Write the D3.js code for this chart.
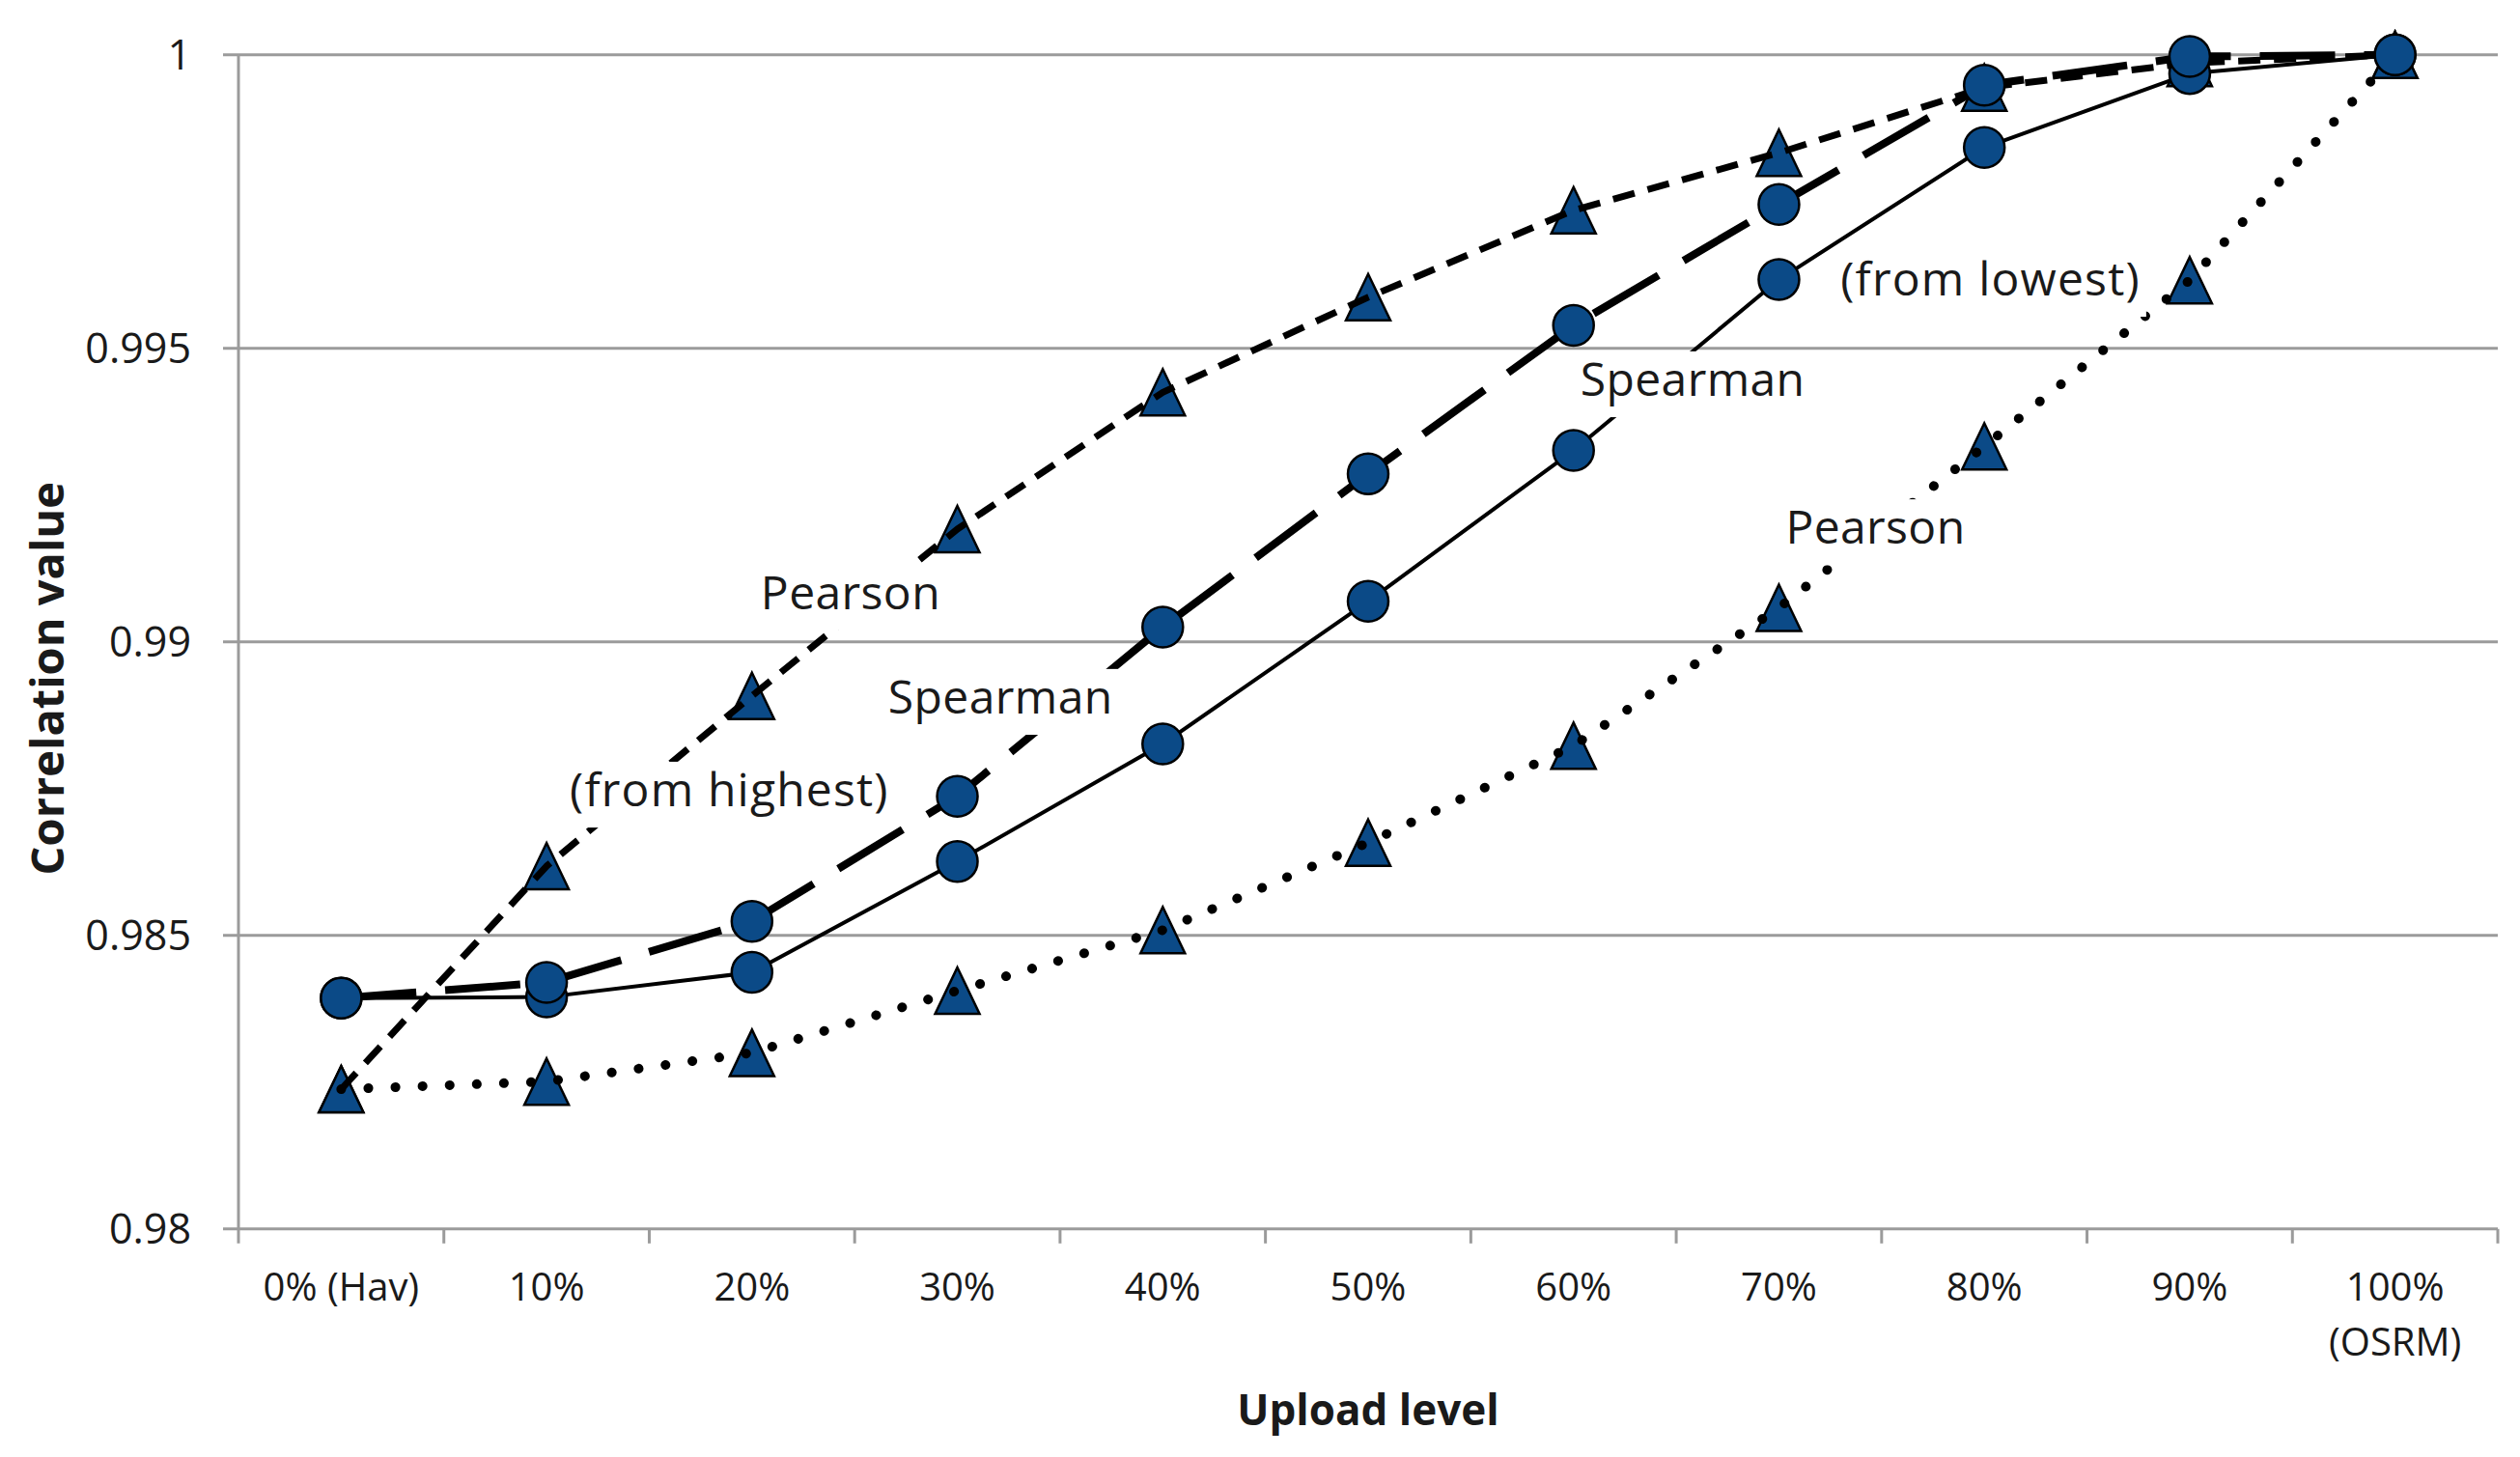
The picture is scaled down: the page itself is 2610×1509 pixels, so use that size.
<!DOCTYPE html>
<html>
<head>
<meta charset="utf-8">
<script src="https://cdn.jsdelivr.net/npm/d3@7/dist/d3.min.js"></script>
<style>
  html, body { margin: 0; padding: 0; background: #fff; }
  svg { display: block; }
</style>
</head>
<body>
<svg id="chart" width="2610" height="1509"></svg>
<script>
// ---- data ----
const categories = ["0% (Hav)", "10%", "20%", "30%", "40%", "50%", "60%", "70%", "80%", "90%", "100%|(OSRM)"];
const pearsonHighest  = [0.98238, 0.98618, 0.98908, 0.99192, 0.99425, 0.99587, 0.99735, 0.99833, 0.99944, 0.99986, 1.0];
const spearmanHighest = [0.98393, 0.98420, 0.98524, 0.98737, 0.99025, 0.99286, 0.99539, 0.99745, 0.99948, 0.99997, 1.0];
const spearmanLowest  = [0.98393, 0.98395, 0.98437, 0.98626, 0.98826, 0.99069, 0.99326, 0.99617, 0.99842, 0.99968, 1.0];
const pearsonLowest   = [0.98238, 0.98251, 0.98300, 0.98406, 0.98509, 0.98658, 0.98823, 0.99058, 0.99333, 0.99616, 1.0];
const yTicks = [0.98, 0.985, 0.99, 0.995, 1];
const yTickLabels = ["0.98", "0.985", "0.99", "0.995", "1"];
const xTitle = "Upload level";
const yTitle = "Correlation value";
// annotations: text, anchored at fractional category index and value (baseline)
const annotations = [
  { text: "Pearson",        cat: 2.48, val: 0.99056 },
  { text: "Spearman",       cat: 3.21, val: 0.98878 },
  { text: "(from highest)", cat: 1.89, val: 0.98720 },
  { text: "(from lowest)",  cat: 8.03, val: 0.99590 },
  { text: "Spearman",       cat: 6.58, val: 0.99419 },
  { text: "Pearson",        cat: 7.47, val: 0.99167 }
];

// ---- layout ----
const svg = d3.select("#chart");
const plotLeft = 247, plotRight = 2587, plotTop = 56.7, plotBottom = 1272.8;
const font = "'Open Sans', 'DejaVu Sans', sans-serif";
const axisColor = "#9b9b9b";
const markerFill = "#0b4a87";

const x = d3.scaleBand().domain(categories).range([plotLeft, plotRight]);
const y = d3.scaleLinear().domain([0.98, 1]).range([plotBottom, plotTop]);
const cx = i => x(categories[i]) + x.bandwidth() / 2;
const cxf = f => x(categories[0]) + x.bandwidth() * (f + 0.5);

// gridlines + y ticks
svg.append("g").selectAll("line").data(yTicks).join("line")
  .attr("x1", plotLeft - 16).attr("x2", plotRight)
  .attr("y1", d => y(d)).attr("y2", d => y(d))
  .attr("stroke", axisColor).attr("stroke-width", 3);

// y axis line
svg.append("line").attr("x1", plotLeft).attr("x2", plotLeft)
  .attr("y1", y(1)).attr("y2", y(0.98) + 15)
  .attr("stroke", axisColor).attr("stroke-width", 3);

// x ticks at band boundaries
const bounds = d3.range(categories.length + 1).map(i => x(categories[0]) + i * x.bandwidth());
svg.append("g").selectAll("line").data(bounds.slice(1)).join("line")
  .attr("x1", d => d).attr("x2", d => d)
  .attr("y1", y(0.98)).attr("y2", y(0.98) + 15)
  .attr("stroke", axisColor).attr("stroke-width", 3);

// y tick labels
svg.append("g").selectAll("text").data(yTicks).join("text")
  .attr("x", 198).attr("y", d => y(d) + 15)
  .attr("text-anchor", "end")
  .attr("font-family", font).attr("font-size", 43).attr("fill", "#1a1a1a")
  .text((d, i) => yTickLabels[i]);

// x tick labels
const xl = svg.append("g").selectAll("text").data(categories).join("text")
  .attr("text-anchor", "middle")
  .attr("font-family", font).attr("font-size", 40).attr("fill", "#1a1a1a");
xl.each(function(d, i) {
  const parts = d.split("|");
  const t = d3.select(this);
  parts.forEach((p, k) => {
    t.append("tspan").attr("x", cx(i)).attr("y", 1347 + k * 57).text(p);
  });
});

// axis titles
svg.append("text").attr("x", (plotLeft + plotRight) / 2).attr("y", 1476)
  .attr("text-anchor", "middle").attr("font-family", font).attr("font-weight", "bold")
  .attr("font-size", 44).attr("fill", "#1a1a1a").text(xTitle);
svg.append("text").attr("transform", `translate(66, ${(plotTop + plotBottom) / 2 + 38}) rotate(-90)`)
  .attr("text-anchor", "middle").attr("font-family", font).attr("font-weight", "bold")
  .attr("font-size", 47).attr("fill", "#1a1a1a").text(yTitle);

// series
const series = [
  { vals: pearsonLowest,   shape: "tri",    dash: "0.1,28", width: 10,  cap: "round" },
  { vals: pearsonHighest,  shape: "tri",    dash: "23,14",  width: 7,   cap: "butt" },
  { vals: spearmanLowest,  shape: "circle", dash: null,     width: 4,   cap: "butt" },
  { vals: spearmanHighest, shape: "circle", dash: "78,30",  width: 8,   cap: "butt" }
];
const line = d3.line().x((d, i) => cx(i)).y(d => y(d));

// triangle markers first
const triW = 46, triH = 48;
series.filter(s => s.shape === "tri").forEach(s => {
  svg.append("g").selectAll("path").data(s.vals).join("path")
    .attr("d", (d, i) => {
      const px = cx(i), py = y(d);
      return `M${px},${py - triH / 2}L${px + triW / 2},${py + triH / 2}L${px - triW / 2},${py + triH / 2}Z`;
    })
    .attr("fill", markerFill).attr("stroke", "#000").attr("stroke-width", 2.5)
    .attr("stroke-linejoin", "miter");
});

// lines
series.forEach(s => {
  const p = svg.append("path").datum(s.vals).attr("d", line)
    .attr("fill", "none").attr("stroke", "#000")
    .attr("stroke-width", s.width).attr("stroke-linecap", s.cap)
    .attr("stroke-linejoin", "round");
  if (s.dash) p.attr("stroke-dasharray", s.dash);
});

// annotation labels with white backgrounds
const annFs = 48;
const ag = svg.append("g");
annotations.forEach(a => {
  const g = ag.append("g");
  const t = g.append("text").attr("x", cxf(a.cat)).attr("y", y(a.val))
    .attr("text-anchor", "middle").attr("font-family", font)
    .attr("font-size", annFs).attr("fill", "#1a1a1a")
    .attr("letter-spacing", a.text.startsWith("(") ? 1.2 : 0.4).text(a.text);
  const bb = t.node().getBBox();
  g.insert("rect", "text").attr("x", bb.x - 6).attr("y", y(a.val) - annFs * 0.96)
    .attr("width", bb.width + 12).attr("height", annFs * 1.42).attr("fill", "#fff");
});

// circle markers on top
series.filter(s => s.shape === "circle").forEach(s => {
  svg.append("g").selectAll("circle").data(s.vals).join("circle")
    .attr("cx", (d, i) => cx(i)).attr("cy", d => y(d)).attr("r", 21)
    .attr("fill", markerFill).attr("stroke", "#000").attr("stroke-width", 2.5);
});
</script>
</body>
</html>
